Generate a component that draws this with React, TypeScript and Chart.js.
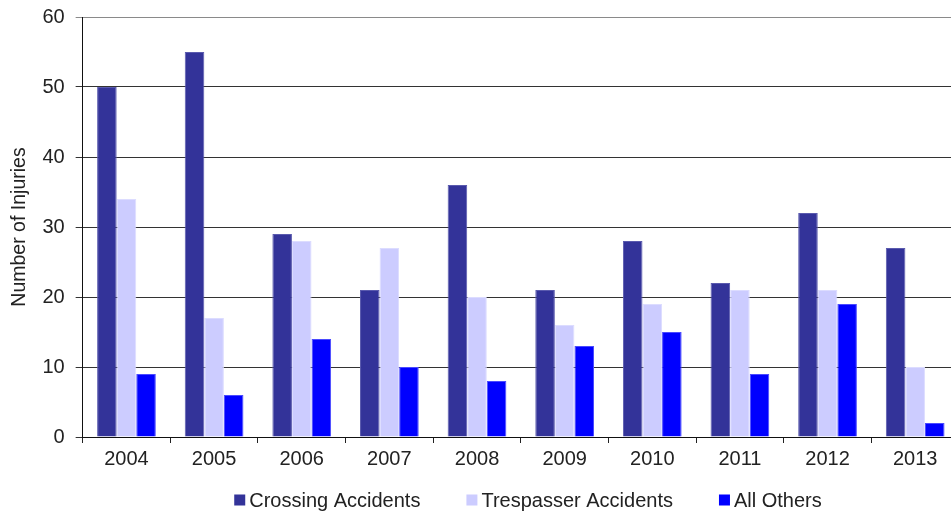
import React, { useEffect, useRef } from "react";
import { Chart, registerables } from "chart.js";

Chart.register(...registerables);

const years = ["2004", "2005", "2006", "2007", "2008", "2009", "2010", "2011", "2012", "2013"];
const crossing = [50, 55, 29, 21, 36, 21, 28, 22, 32, 27];
const trespasser = [34, 17, 28, 27, 20, 16, 19, 21, 21, 10];
const allOthers = [9, 6, 14, 10, 8, 13, 15, 9, 19, 2];
const yTicks = [0, 10, 20, 30, 40, 50, 60];

const FONT = "'Liberation Sans', Arial, sans-serif";

const legendPlugin = {
  id: "customLegend",
  afterDraw(chart: any) {
    const ctx = chart.ctx;
    ctx.save();
    ctx.font = `20px ${FONT}`;
    ctx.textBaseline = "middle";
    const box = 11;
    const gapText = 4;
    const gapItem = 46;
    const items = chart.data.datasets.map((d: any) => ({
      label: d.label,
      color: d.backgroundColor,
      w: ctx.measureText(d.label).width,
    }));
    const total =
      items.reduce((s: number, it: any) => s + box + gapText + it.w, 0) + gapItem * (items.length - 1);
    const cx = 528;
    const cy = 500;
    let x = cx - total / 2;
    for (const it of items) {
      ctx.fillStyle = it.color;
      ctx.fillRect(x, cy - box / 2, box, box);
      x += box + gapText;
      ctx.fillStyle = "#222";
      ctx.fillText(it.label, x, cy + 1);
      x += it.w + gapItem;
    }
    ctx.restore();
  },
};

export default function App() {
  const ref = useRef<HTMLCanvasElement | null>(null);
  useEffect(() => {
    document.body.style.margin = "0";
    const chart = new Chart(ref.current!, {
      type: "bar",
      data: {
        labels: years,
        datasets: [
          { label: "Crossing Accidents", data: crossing, backgroundColor: "#333399", borderColor: "#5a5aae", borderWidth: 1 },
          { label: "Trespasser Accidents", data: trespasser, backgroundColor: "#ccccff", borderColor: "#dcdcff", borderWidth: 1 },
          { label: "All Others", data: allOthers, backgroundColor: "#0000ff", borderColor: "#4a4aff", borderWidth: 1 },
        ],
      },
      plugins: [legendPlugin],
      options: {
        animation: false,
        responsive: false,
        devicePixelRatio: 1,
        layout: { padding: { top: 17, left: 4, right: 0, bottom: 38 } },
        datasets: { bar: { categoryPercentage: 0.67, barPercentage: 1 } },
        plugins: {
          tooltip: { enabled: false },
          legend: { display: false },
        },
        scales: {
          x: {
            offset: true,
            grid: { offset: true, drawOnChartArea: false, drawTicks: true, tickLength: 6, color: "#222" },
            border: { color: "#111", width: 1 },
            ticks: { color: "#222", font: { family: FONT, size: 20 }, padding: 4, maxRotation: 0 },
          },
          y: {
            min: 0,
            max: 60,
            afterBuildTicks: (axis: any) => {
              axis.ticks = yTicks.map((v) => ({ value: v }));
            },
            afterFit: (scale: any) => {
              scale.paddingTop = 0;
            },
            grid: {
              color: (ctx: any) => (ctx.tick && ctx.tick.value === 60 ? "#8a8a8a" : "#333"),
              tickLength: 7,
              lineWidth: 1,
            },
            border: { color: "#111", width: 1 },
            ticks: { color: "#222", font: { family: FONT, size: 20 }, padding: 11 },
            title: {
              display: true,
              text: "Number of Injuries",
              color: "#222",
              font: { family: FONT, size: 19.5 },
              padding: { top: 4, bottom: 0 },
            },
          },
        },
      },
    });
    return () => chart.destroy();
  }, []);
  return (
    <div style={{ position: "absolute", left: 0, top: 0, width: 951, height: 513, overflow: "hidden", background: "#fff" }}>
      <canvas ref={ref} width={959} height={513} style={{ display: "block" }} />
    </div>
  );
}
